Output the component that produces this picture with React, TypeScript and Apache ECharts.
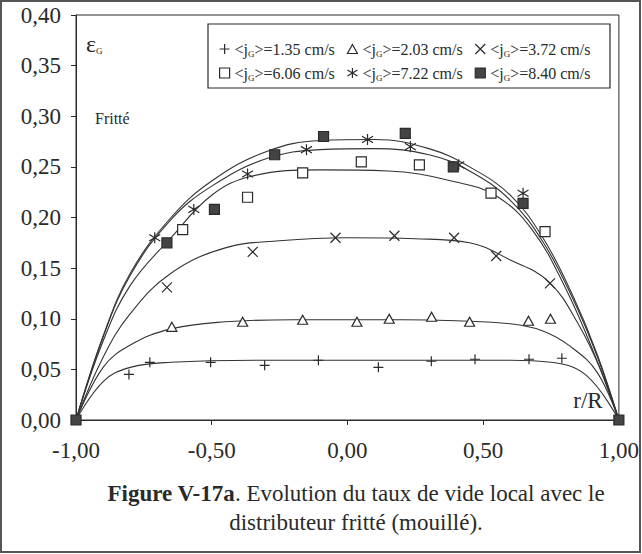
import React, { useEffect, useRef } from "react";
import * as echarts from "echarts";

// ---- measured points (r/R, epsilon_G) ----
const names = ["j135", "j203", "j372", "j606", "j722", "j840"];
const legendLabels = ["1.35", "2.03", "3.72", "6.06", "7.22", "8.40"];

const xPlus = [-0.805, -0.728, -0.504, -0.305, -0.107, 0.114, 0.309, 0.47, 0.669, 0.79];
const yPlus = [0.045, 0.057, 0.057, 0.054, 0.059, 0.052, 0.058, 0.06, 0.06, 0.061];

const xTri = [-0.647, -0.386, -0.165, 0.035, 0.154, 0.31, 0.45, 0.667, 0.748];
const yTri = [0.092, 0.097, 0.099, 0.097, 0.1, 0.102, 0.097, 0.098, 0.1];

const xCross = [-0.665, -0.349, -0.044, 0.173, 0.393, 0.548, 0.746];
const yCross = [0.131, 0.166, 0.18, 0.182, 0.18, 0.162, 0.135];

const xSq = [-0.607, -0.368, -0.165, 0.051, 0.265, 0.529, 0.728];
const ySq = [0.188, 0.22, 0.244, 0.255, 0.252, 0.224, 0.186];

const xStar = [-0.71, -0.566, -0.368, -0.151, 0.074, 0.232, 0.41, 0.647];
const yStar = [0.18, 0.208, 0.243, 0.267, 0.277, 0.27, 0.252, 0.224];

const xFill = [-1, -0.665, -0.49, -0.268, -0.088, 0.213, 0.39, 0.647, 1];
const yFill = [0, 0.175, 0.208, 0.262, 0.28, 0.283, 0.25, 0.214, 0];

// ---- fitted profiles ----
const fitPlusX = [-1, -0.9, -0.8, -0.65, -0.3, 0, 0.3, 0.6, 0.75, 0.88, 1];
const fitPlusY = [0, 0.038, 0.052, 0.057, 0.059, 0.059, 0.059, 0.059, 0.057, 0.044, 0];

const fitTriX = [-1, -0.9, -0.8, -0.65, -0.45, -0.2, 0, 0.2, 0.4, 0.6, 0.72, 0.82, 0.92, 1];
const fitTriY = [0, 0.052, 0.074, 0.09, 0.097, 0.099, 0.099, 0.099, 0.098, 0.095, 0.088, 0.073, 0.047, 0];

const fitCrossX = [-1, -0.9, -0.8, -0.65, -0.45, -0.25, 0, 0.25, 0.45, 0.6, 0.74, 0.85, 0.94, 1];
const fitCrossY = [0, 0.062, 0.105, 0.145, 0.17, 0.177, 0.18, 0.179, 0.175, 0.158, 0.137, 0.095, 0.045, 0];

const fitSqX = [-1, -0.9, -0.8, -0.65, -0.5, -0.35, -0.1, 0.15, 0.4, 0.55, 0.68, 0.8, 0.91, 1];
const fitSqY = [0, 0.078, 0.133, 0.18, 0.222, 0.241, 0.247, 0.246, 0.235, 0.221, 0.188, 0.132, 0.065, 0];

const fitStarX = [-1, -0.9, -0.8, -0.65, -0.5, -0.3, -0.1, 0.1, 0.3, 0.45, 0.6, 0.72, 0.83, 0.92, 1];
const fitStarY = [0, 0.082, 0.143, 0.198, 0.231, 0.258, 0.267, 0.268, 0.262, 0.246, 0.217, 0.176, 0.12, 0.063, 0];

const fitFillX = [-1, -0.9, -0.8, -0.65, -0.5, -0.3, -0.1, 0.1, 0.3, 0.45, 0.6, 0.72, 0.83, 0.92, 1];
const fitFillY = [0, 0.083, 0.145, 0.2, 0.236, 0.265, 0.276, 0.277, 0.268, 0.25, 0.222, 0.18, 0.123, 0.065, 0];

const FONT = "'Liberation Serif', 'Times New Roman', serif";
const INK = "#2a2a2a";

const zip = (xs: number[], ys: number[]) => xs.map((x, i) => [x, ys[i]]);
const fmt = (v: number) => v.toFixed(2).replace(".", ",");

export default function App() {
  const ref = useRef<HTMLDivElement>(null);

  useEffect(() => {
    document.body.style.margin = "0";
    const chart = echarts.init(ref.current!, null, { renderer: "svg" });

    const pointSets = [
      { x: xPlus, y: yPlus, symbol: "path://M0,5L10,5M5,0L5,10", size: 10, color: INK },
      { x: xTri, y: yTri, symbol: "path://M5,0L10,9L0,9Z", size: [10, 9], color: "#fff" },
      { x: xCross, y: yCross, symbol: "path://M0,0L10,10M0,10L10,0", size: 10, color: INK },
      { x: xSq, y: ySq, symbol: "rect", size: 10, color: "#fff" },
      { x: xStar, y: yStar, symbol: "path://M5,0L5,10M0,2L10,8M0,8L10,2", size: 11, color: INK },
      { x: xFill, y: yFill, symbol: "rect", size: 10, color: "#444" },
    ];
    const fits = [
      zip(fitPlusX, fitPlusY),
      zip(fitTriX, fitTriY),
      zip(fitCrossX, fitCrossY),
      zip(fitSqX, fitSqY),
      zip(fitStarX, fitStarY),
      zip(fitFillX, fitFillY),
    ];

    const series: any[] = [];
    fits.forEach((d, i) => {
      series.push({
        type: "line",
        name: "fit" + i,
        data: d,
        smooth: 0.4,
        symbol: "none",
        silent: true,
        lineStyle: { color: "#333", width: 1.1 },
        z: 1,
      });
    });
    pointSets.forEach((p, i) => {
      series.push({
        type: "scatter",
        name: names[i],
        data: zip(p.x, p.y),
        symbol: p.symbol,
        symbolSize: p.size,
        itemStyle: { color: p.color, borderColor: INK, borderWidth: 1.2, opacity: 1 },
        z: 3,
      });
    });

    const legendFormatter = (name: string) => {
      const i = names.indexOf(name);
      return `{n|<j}{s|G}{n|>=${legendLabels[i]} cm/s}`;
    };
    const legendText = {
      fontFamily: FONT,
      color: INK,
      rich: {
        n: { fontFamily: FONT, fontSize: 16, color: INK, lineHeight: 18, verticalAlign: "middle" },
        s: { fontFamily: FONT, fontSize: 9, color: INK, lineHeight: 8, verticalAlign: "bottom" },
      },
    };
    const legendBase = {
      orient: "horizontal",
      left: 214,
      itemWidth: 10,
      itemHeight: 10,
      itemGap: 12,
      selectedMode: false,
      formatter: legendFormatter,
      textStyle: legendText,
      itemStyle: { borderWidth: 1.2, borderColor: INK },
    };

    chart.setOption({
      animation: false,
      backgroundColor: "#fff",
      grid: {
        left: 76,
        right: 22,
        top: 15,
        bottom: 134,
        show: true,
        borderColor: INK,
        borderWidth: 1,
        backgroundColor: "transparent",
      },
      legend: [
        { ...legendBase, top: 36, data: names.slice(0, 3) },
        { ...legendBase, top: 60, data: names.slice(3, 6) },
      ],
      xAxis: {
        type: "value",
        min: -1,
        max: 1,
        interval: 0.5,
        splitLine: { show: false },
        axisLine: { onZero: false, lineStyle: { color: INK, width: 1 } },
        axisTick: { length: 5, lineStyle: { color: INK } },
        axisLabel: {
          formatter: fmt,
          fontFamily: FONT,
          fontSize: 23,
          color: INK,
          margin: 19,
          showMinLabel: true,
          showMaxLabel: true,
        },
      },
      yAxis: {
        type: "value",
        min: 0,
        max: 0.4,
        interval: 0.05,
        splitLine: { show: false },
        axisLine: { show: true, onZero: false, lineStyle: { color: INK, width: 1 } },
        axisTick: { show: true, length: 5, lineStyle: { color: INK } },
        axisLabel: {
          formatter: fmt,
          fontFamily: FONT,
          fontSize: 23,
          color: INK,
          margin: 15,
          showMinLabel: true,
          showMaxLabel: true,
        },
      },
      graphic: [
        {
          type: "rect",
          z: 0,
          shape: { x: 1, y: 1, width: 639, height: 551 },
          style: { fill: "none", stroke: "#555", lineWidth: 2 },
        },
        {
          type: "rect",
          z: 10,
          shape: { x: 208, y: 24, width: 402, height: 64 },
          style: { fill: "none", stroke: INK, lineWidth: 1.2 },
        },
        {
          type: "text",
          z: 10,
          x: 86,
          y: 33,
          style: {
            text: "{e|ε}{s|G}",
            rich: {
              e: { fontFamily: FONT, fontSize: 24, fill: INK, lineHeight: 22, verticalAlign: "middle" },
              s: { fontFamily: FONT, fontSize: 9, fill: INK, lineHeight: 8, verticalAlign: "bottom" },
            },
          },
        },
        {
          type: "text",
          z: 10,
          x: 95,
          y: 110,
          style: { text: "Fritté", fontFamily: FONT, fontSize: 16, fill: INK },
        },
        {
          type: "text",
          z: 10,
          x: 588,
          y: 400,
          style: {
            text: "r/R",
            fontFamily: FONT,
            fontSize: 23,
            fill: INK,
            align: "center",
            verticalAlign: "middle",
          },
        },
        {
          type: "text",
          z: 10,
          x: 356,
          y: 493,
          style: {
            text: "{b|Figure V-17a}{n|. Evolution du taux de vide local avec le}",
            align: "center",
            verticalAlign: "middle",
            rich: {
              b: { fontFamily: FONT, fontSize: 23, fontWeight: "bold", fill: INK },
              n: { fontFamily: FONT, fontSize: 23, fill: INK },
            },
          },
        },
        {
          type: "text",
          z: 10,
          x: 356,
          y: 522,
          style: {
            text: "distributeur fritté (mouillé).",
            fontFamily: FONT,
            fontSize: 23,
            fill: INK,
            align: "center",
            verticalAlign: "middle",
          },
        },
      ],
      series,
    });

    return () => chart.dispose();
  }, []);

  return <div ref={ref} style={{ width: 642, height: 554 }} />;
}
